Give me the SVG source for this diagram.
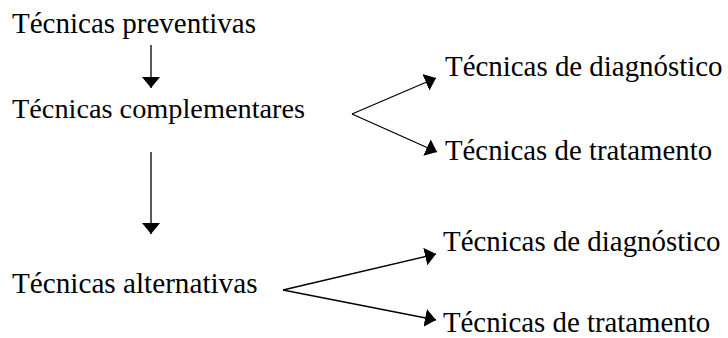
<svg xmlns="http://www.w3.org/2000/svg" width="728" height="338" viewBox="0 0 728 338">
<style>
.c line{stroke:#000;stroke-width:1.3;fill:none;marker-end:url(#ah)}
</style>
<defs>
<marker id="ah" markerUnits="userSpaceOnUse" markerWidth="11" markerHeight="18" refX="11" refY="9" orient="auto">
<path d="M0,0 L11,9 L0,18 z" fill="#000"/>
</marker>
</defs>
<rect width="728" height="338" fill="#fff"/>
<g class="c" id="connectors">
<line x1="151" y1="45" x2="151" y2="88"/>
<line x1="151" y1="152" x2="151" y2="234"/>
<line x1="352" y1="114" x2="436" y2="78"/>
<line x1="352" y1="114" x2="437" y2="152"/>
<line x1="283" y1="290" x2="436" y2="254"/>
<line x1="283" y1="290" x2="436" y2="320"/>
</g>
<g font-family="Liberation Serif, serif" font-size="28" fill="#000">
<g id="n1"><text x="12" y="33" font-size="29">Técnicas preventivas</text></g>
<g id="n2"><text x="12" y="118" font-size="28.3">Técnicas complementares</text></g>
<g id="n3"><text x="12" y="293" font-size="29.2">Técnicas alternativas</text></g>
<g id="n4"><text x="445" y="76" font-size="28.9">Técnicas de diagnóstico</text></g>
<g id="n5"><text x="445" y="160" font-size="28.8">Técnicas de tratamento</text></g>
<g id="n6"><text x="443" y="251" font-size="28.9">Técnicas de diagnóstico</text></g>
<g id="n7"><text x="443" y="332" font-size="28.8">Técnicas de tratamento</text></g>
</g>
</svg>
